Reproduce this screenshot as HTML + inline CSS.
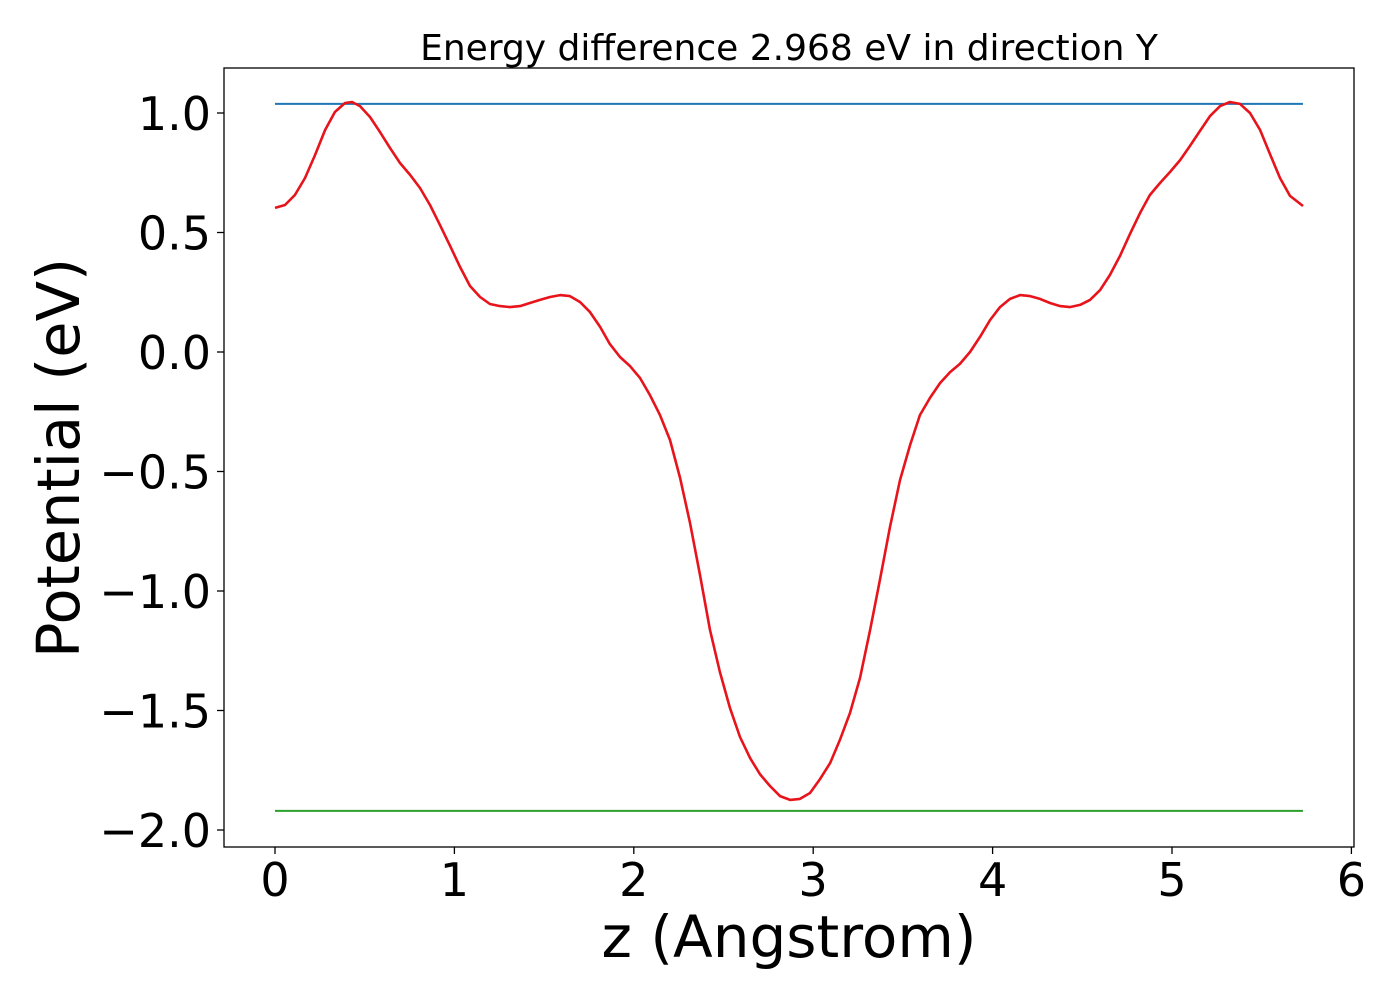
<!DOCTYPE html>
<html><head><meta charset="utf-8"><style>
body{margin:0;background:#fff;}
svg text{font-family:"DejaVu Sans","Liberation Sans",sans-serif;fill:#000;}
</style></head><body>
<svg id="chart" width="1400" height="1000" xmlns="http://www.w3.org/2000/svg">
<rect width="1400" height="1000" fill="#fff"/>
<text x="789" y="60" font-size="36" text-anchor="middle">Energy difference 2.968 eV in direction Y</text>
<g id="xticks"></g>
<g id="yticks"></g>
<g id="series"></g>
<rect x="224" y="68" width="1130" height="779" fill="none" stroke="#000" stroke-width="1.3"/>
<text x="789" y="957" font-size="58" text-anchor="middle">z (Angstrom)</text>
<text transform="translate(79,458) rotate(-90)" font-size="59" text-anchor="middle">Potential (eV)</text>
</svg>
<script>
const xTicks=[0,1,2,3,4,5,6];
const yTicks=[1.0,0.5,0.0,-0.5,-1.0,-1.5,-2.0];
const yTickLabels=["1.0","0.5","0.0","\u22120.5","\u22121.0","\u22121.5","\u22122.0"];
const zVals=[0,0.056,0.111,0.167,0.223,0.279,0.334,0.390,0.429,0.474,0.530,0.585,0.641,0.697,0.753,0.808,0.864,0.920,0.976,1.031,1.087,1.143,1.198,1.254,1.310,1.366,1.421,1.477,1.533,1.589,1.644,1.700,1.756,1.812,1.867,1.923,1.979,2.035,2.090,2.146,2.202,2.258,2.313,2.369,2.425,2.480,2.536,2.592,2.648,2.703,2.759,2.815,2.871,2.926,2.982,3.038,3.094,3.149,3.205,3.261,3.317,3.372,3.428,3.484,3.540,3.595,3.651,3.707,3.763,3.818,3.874,3.930,3.986,4.041,4.097,4.153,4.209,4.264,4.320,4.376,4.431,4.487,4.543,4.599,4.654,4.710,4.766,4.822,4.877,4.933,4.989,5.045,5.100,5.156,5.212,5.268,5.323,5.379,5.435,5.491,5.546,5.602,5.658,5.730];
const potential=[0.603,0.615,0.657,0.728,0.824,0.929,1.004,1.042,1.046,1.029,0.983,0.921,0.854,0.791,0.741,0.686,0.615,0.531,0.444,0.356,0.276,0.230,0.201,0.192,0.188,0.192,0.205,0.218,0.230,0.238,0.234,0.209,0.167,0.105,0.033,-0.021,-0.059,-0.109,-0.180,-0.264,-0.368,-0.527,-0.715,-0.933,-1.163,-1.339,-1.490,-1.611,-1.699,-1.766,-1.816,-1.858,-1.874,-1.870,-1.845,-1.787,-1.720,-1.623,-1.510,-1.364,-1.163,-0.954,-0.732,-0.536,-0.389,-0.264,-0.192,-0.130,-0.084,-0.050,0.000,0.063,0.134,0.188,0.222,0.238,0.234,0.222,0.205,0.192,0.188,0.197,0.218,0.259,0.322,0.402,0.494,0.582,0.657,0.707,0.753,0.803,0.862,0.925,0.987,1.029,1.046,1.038,1.000,0.929,0.828,0.728,0.653,0.611];
const maxLevel=[1.038];
const minLevel=[-1.920];
const lineRange=[0,5.73];

const NS="http://www.w3.org/2000/svg";
function sx(v){return 275+v*179.4;}
function sy(v){return 352-v*239;}
function mk(tag,attrs,parent){const e=document.createElementNS(NS,tag);for(const k in attrs)e.setAttribute(k,attrs[k]);parent.appendChild(e);return e;}
const gx=document.getElementById('xticks'),gy=document.getElementById('yticks'),gs=document.getElementById('series');
xTicks.forEach(t=>{
  const l=mk('line',{x1:sx(t),x2:sx(t),y1:847,y2:854,stroke:'#000','stroke-width':1.3},gx);
  
  
  const tx=mk('text',{x:sx(t),y:896,'font-size':46,'text-anchor':'middle'},gx);
  tx.textContent=String(t);
  
  
});
yTicks.forEach((t,i)=>{
  const l=mk('line',{x1:217,x2:224,y1:sy(t),y2:sy(t),stroke:'#000','stroke-width':1.3},gy);
  
  
  const tx=mk('text',{x:211,y:sy(t)+17,'font-size':46,'text-anchor':'end'},gy);
  tx.textContent=yTickLabels[i];
  
  
});
const bl=mk('line',{x1:sx(lineRange[0]),x2:sx(lineRange[1]),y1:sy(maxLevel[0]),y2:sy(maxLevel[0]),stroke:'#1f77b4','stroke-width':2},gs);


const gl=mk('line',{x1:sx(lineRange[0]),x2:sx(lineRange[1]),y1:sy(minLevel[0]),y2:sy(minLevel[0]),stroke:'#2ca02c','stroke-width':2},gs);


const n=Math.min(zVals.length,potential.length);
let d='';
for(let i=0;i<n;i++){d+=(i?'L':'M')+sx(zVals[i]).toFixed(1)+','+sy(potential[i]).toFixed(1);}
const p=mk('path',{d:d,fill:'none',stroke:'#e8141c','stroke-width':2.6,'stroke-linejoin':'round'},gs);


</script>
</body></html>
